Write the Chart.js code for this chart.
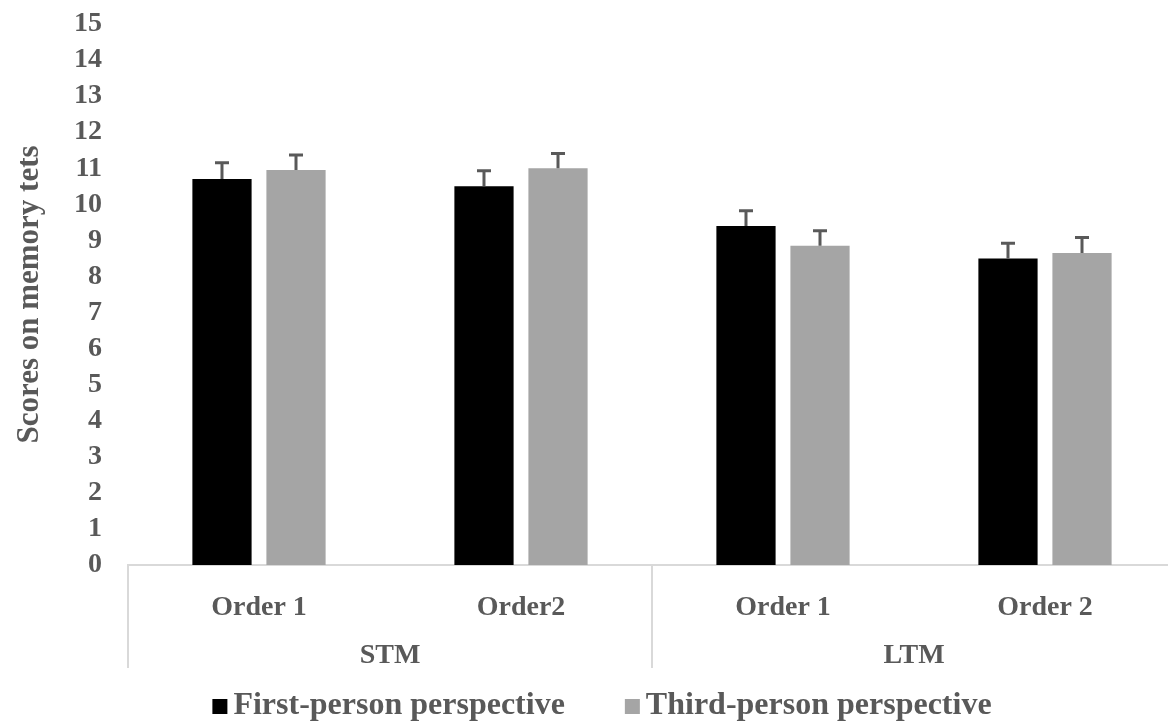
<!DOCTYPE html>
<html lang="en">
<head>
<meta charset="UTF-8">
<title>Scores on memory tets</title>
<script src="https://cdn.jsdelivr.net/npm/chart.js"></script>
<style>
    html, body { margin: 0; padding: 0; background: #fff; overflow: hidden; }
    .caixa { width: 1176px; height: 724px; }
</style>
</head>
<body>
<div class="caixa"><canvas id="grafico"></canvas></div>

<script>
// dados
var categorias = ['Order 1', 'Order2', 'Order 1', 'Order 2'];
var grupos = ['STM', 'LTM'];
var grupoDaCategoria = [0, 0, 1, 1];
var nomesSeries = ['First-person perspective', 'Third-person perspective'];
var primeiraPessoa = [10.7, 10.5, 9.4, 8.5];
var terceiraPessoa = [10.95, 11.0, 8.85, 8.65];
var erroPrimeira = [0.45, 0.43, 0.42, 0.42];
var erroTerceira = [0.42, 0.41, 0.42, 0.43];
var ticksY = [0, 1, 2, 3, 4, 5, 6, 7, 8, 9, 10, 11, 12, 13, 14, 15];

var cinzaTexto = '#595959';
var fonte = '"Liberation Serif", "Times New Roman", serif';

// barras de erro (so para cima)
const barrasErro = {
    id: 'barrasErro',
    afterDatasetsDraw(chart) {
        const ctx = chart.ctx;
        const y = chart.scales.y;
        ctx.save();
        ctx.strokeStyle = cinzaTexto;
        ctx.lineWidth = 3;
        chart.data.datasets.forEach(function (ds, i) {
            const meta = chart.getDatasetMeta(i);
            meta.data.forEach(function (bar, j) {
                const topo = y.getPixelForValue(ds.data[j] + ds.erros[j]);
                ctx.beginPath();
                ctx.moveTo(bar.x, bar.y);
                ctx.lineTo(bar.x, topo);
                ctx.moveTo(bar.x - 7, topo);
                ctx.lineTo(bar.x + 7, topo);
                ctx.stroke();
            });
        });
        ctx.restore();
    }
};

// segundo nivel do eixo x (STM / LTM) e separadores
const eixoGrupos = {
    id: 'eixoGrupos',
    afterDraw(chart) {
        const ctx = chart.ctx;
        const x = chart.scales.x;
        const meio = (x.getPixelForValue(1) - x.getPixelForValue(0)) / 2;
        ctx.save();
        ctx.strokeStyle = '#d9d9d9';
        ctx.lineWidth = 2;
        ctx.fillStyle = cinzaTexto;
        ctx.font = 'bold 28px ' + fonte;
        ctx.textAlign = 'center';
        ctx.textBaseline = 'middle';
        grupos.forEach(function (g, gi) {
            var idx = [];
            grupoDaCategoria.forEach(function (v, k) { if (v == gi) idx.push(k); });
            var esq = x.getPixelForValue(idx[0]) - meio;
            var dir = x.getPixelForValue(idx[idx.length - 1]) + meio;
            [esq, dir].forEach(function (px) {
                ctx.beginPath();
                ctx.moveTo(px, x.top);
                ctx.lineTo(px, x.top + 103);
                ctx.stroke();
            });
            ctx.fillText(g, (esq + dir) / 2, x.top + 91);
        });
        ctx.restore();
    }
};

// legenda desenhada na mao
const legendaManual = {
    id: 'legendaManual',
    afterDraw(chart) {
        const ctx = chart.ctx;
        const area = chart.chartArea;
        const cores = chart.data.datasets.map(function (d) { return d.backgroundColor; });
        ctx.save();
        ctx.font = 'bold 32px ' + fonte;
        ctx.textBaseline = 'middle';
        ctx.textAlign = 'left';
        var espaco = 60;
        var larguras = nomesSeries.map(function (n) { return 21 + ctx.measureText(n).width; });
        var total = larguras[0] + larguras[1] + espaco;
        var xi = (area.left + area.right) / 2 - total / 2 - 50;
        var yc = 706;
        nomesSeries.forEach(function (n, i) {
            ctx.fillStyle = cores[i];
            ctx.fillRect(xi, yc - 7, 15, 15);
            ctx.fillStyle = cinzaTexto;
            ctx.fillText(n, xi + 21, yc);
            xi += larguras[i] + espaco;
        });
        ctx.restore();
    }
};

const config = {
    type: 'bar',
    data: {
        labels: categorias,
        datasets: [{
            label: nomesSeries[0],
            data: primeiraPessoa,
            erros: erroPrimeira,
            backgroundColor: '#000000',
            categoryPercentage: 0.565,
            barPercentage: 0.8
        }, {
            label: nomesSeries[1],
            data: terceiraPessoa,
            erros: erroTerceira,
            backgroundColor: '#a5a5a5',
            categoryPercentage: 0.565,
            barPercentage: 0.8
        }]
    },
    options: {
        responsive: true,
        maintainAspectRatio: false,
        animation: false,
        layout: { padding: { top: 24, left: 11, right: 0, bottom: 56 } },
        plugins: { legend: { display: false }, tooltip: { enabled: false } },
        scales: {
            x: {
                grid: { display: false },
                border: { color: '#d9d9d9', width: 2 },
                ticks: { color: cinzaTexto, font: { family: fonte, size: 28, weight: 'bold' }, padding: 18, maxRotation: 0 },
                afterFit: function (s) { s.height = 103; }
            },
            y: {
                min: 0,
                max: 15,
                afterBuildTicks: function (s) { s.ticks = ticksY.map(function (v) { return { value: v }; }); },
                grid: { display: false, drawTicks: false },
                border: { display: false },
                ticks: { color: cinzaTexto, font: { family: fonte, size: 28, weight: 'bold' }, padding: 26, autoSkip: false },
                title: {
                    display: true,
                    text: 'Scores on memory tets',
                    color: cinzaTexto,
                    font: { family: fonte, size: 31, weight: 'bold' },
                    padding: { top: 0, bottom: 0 }
                },
                afterFit: function (s) { s.width = 117; s.paddingTop = 0; s.paddingBottom = 0; }
            }
        }
    },
    plugins: [barrasErro, eixoGrupos, legendaManual]
};

new Chart(document.getElementById('grafico'), config);
</script>
</body>
</html>
